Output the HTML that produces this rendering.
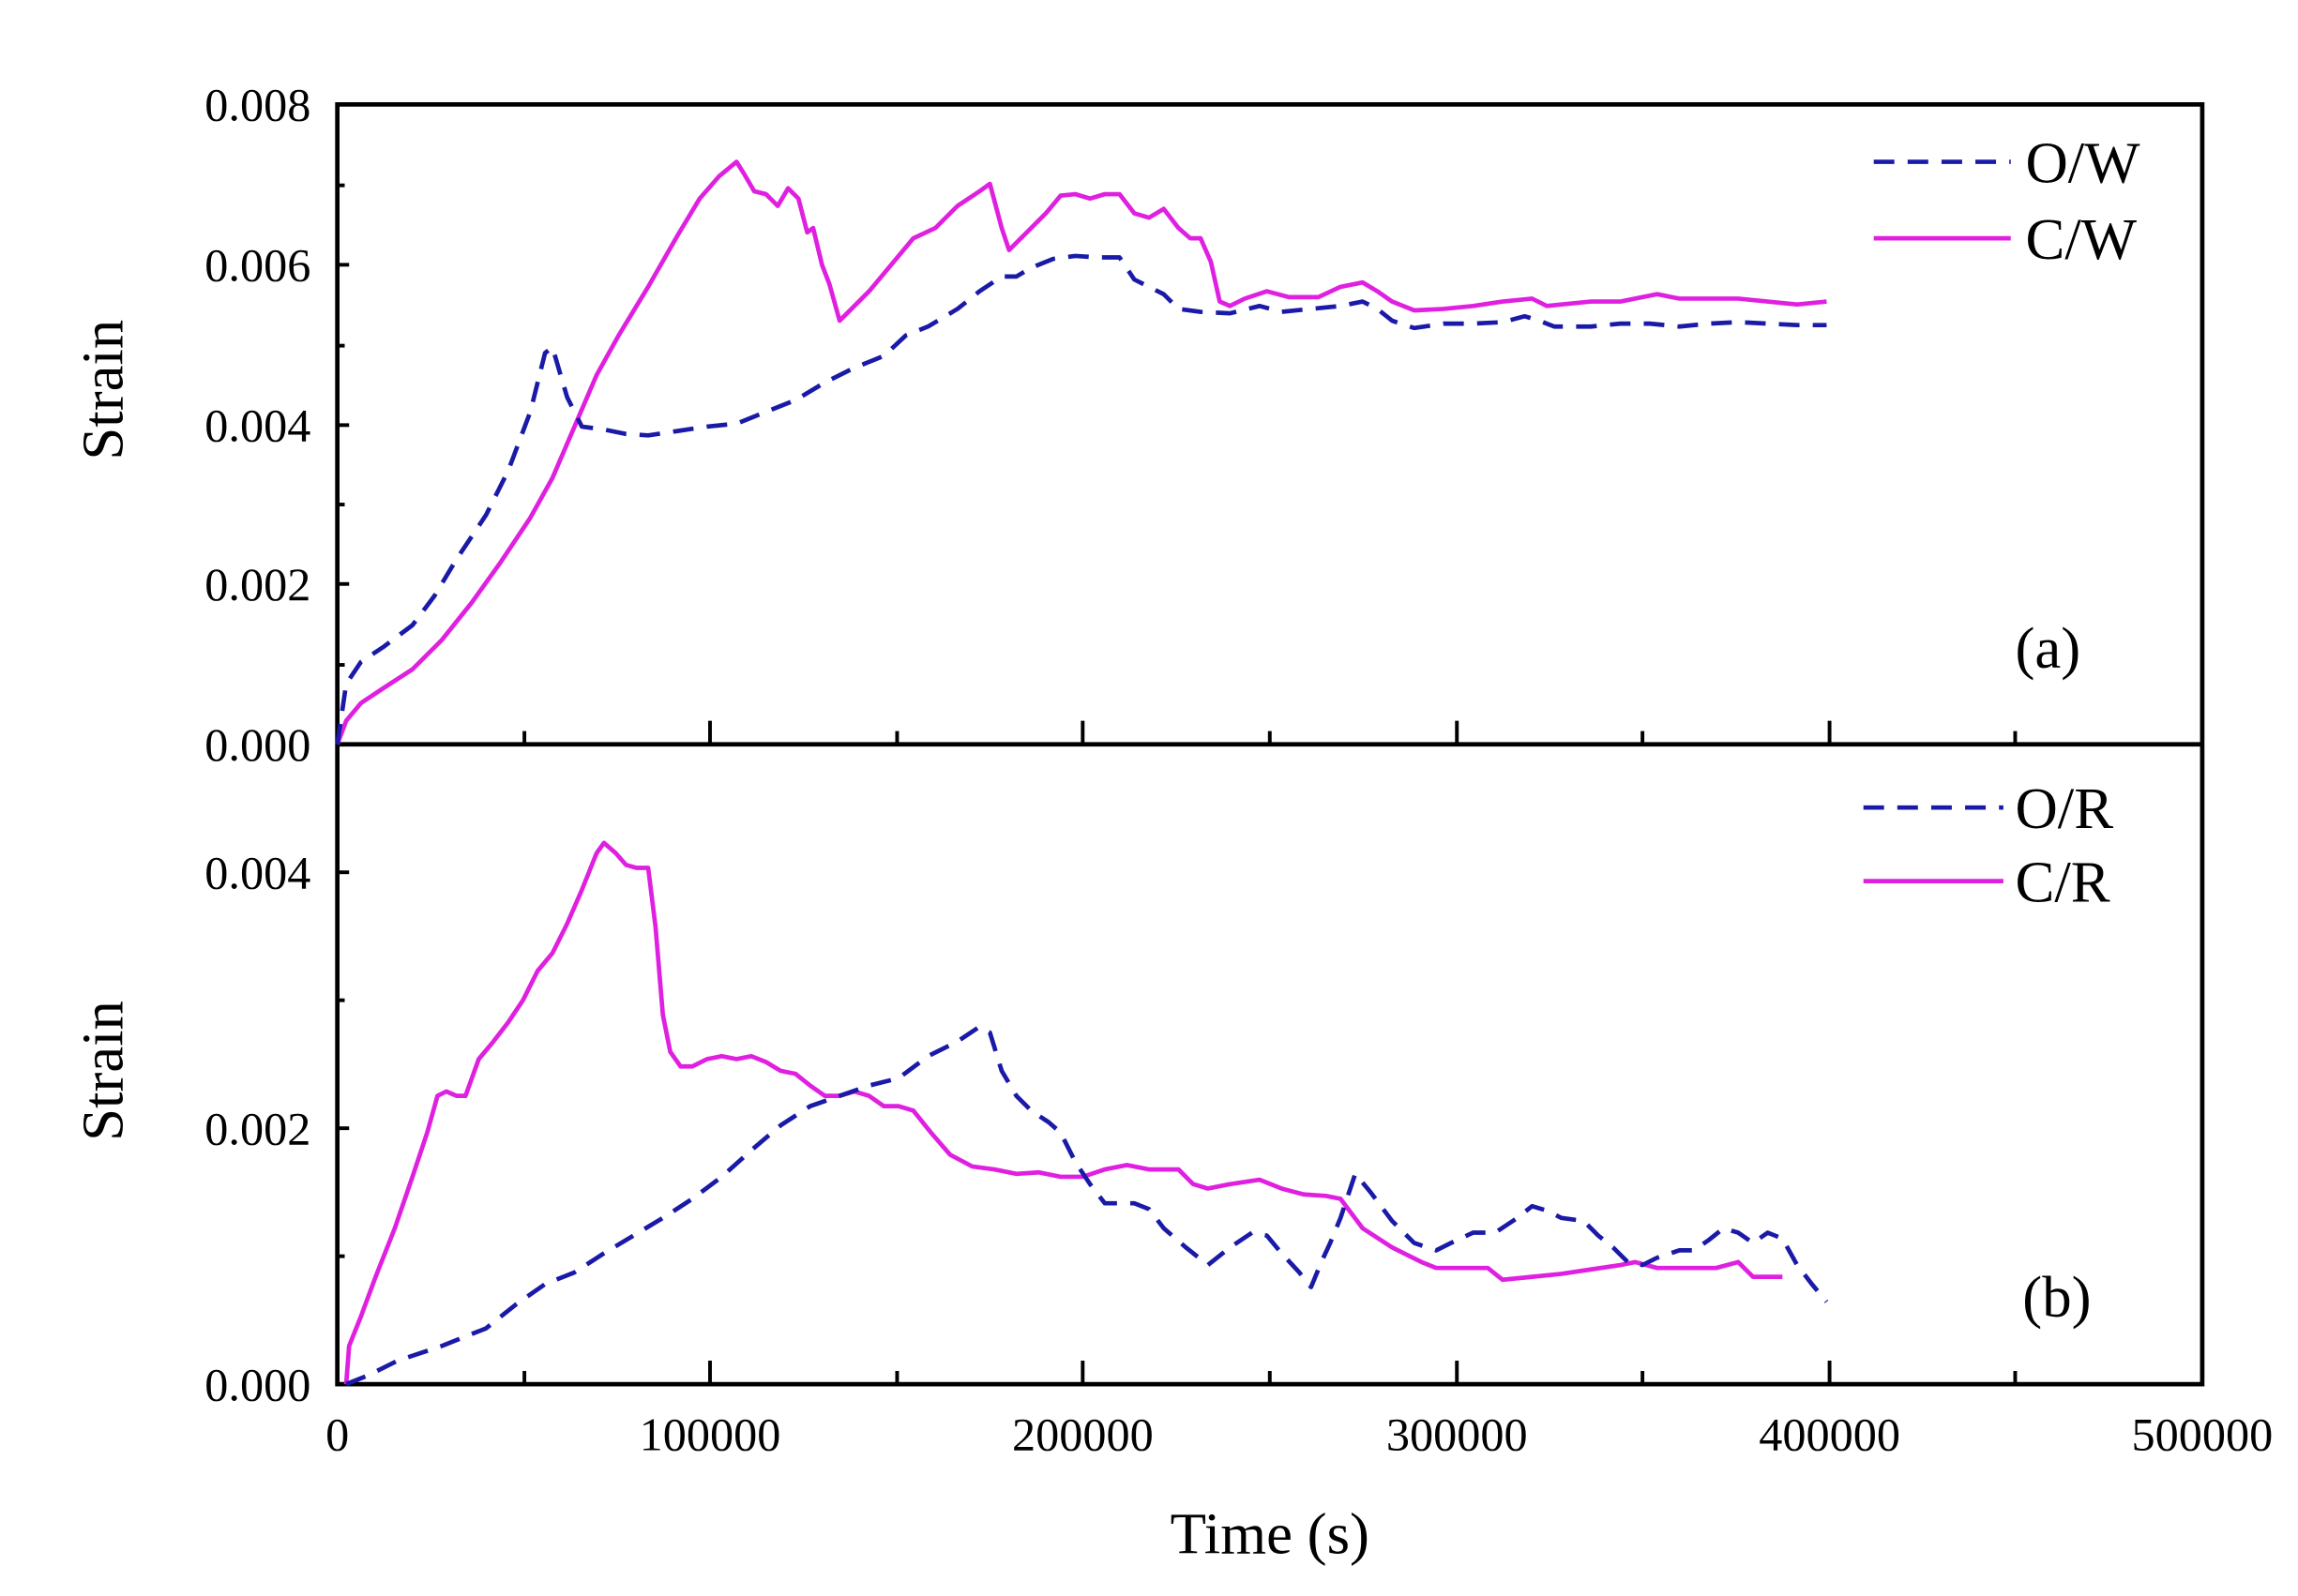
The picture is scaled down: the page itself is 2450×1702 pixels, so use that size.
<!DOCTYPE html>
<html><head><meta charset="utf-8"><style>html,body{margin:0;padding:0;background:#fff}svg{display:block}</style></head>
<body>
<svg width="2450" height="1702" viewBox="0 0 1560 1085" preserveAspectRatio="none" xmlns="http://www.w3.org/2000/svg" font-family="'Liberation Serif',serif">
<rect width="1560" height="1085" fill="#fff"/>
<g stroke="#000" stroke-width="3" fill="none">
<rect x="229" y="71" width="1266" height="870"/>
<line x1="229" y1="506" x2="1495" y2="506"/>
</g>
<g stroke="#000" stroke-width="2.5">
<line x1="482" y1="506" x2="482" y2="490"/><line x1="735" y1="506" x2="735" y2="490"/><line x1="989" y1="506" x2="989" y2="490"/><line x1="1242" y1="506" x2="1242" y2="490"/>
<line x1="356" y1="506" x2="356" y2="497"/><line x1="609" y1="506" x2="609" y2="497"/><line x1="862" y1="506" x2="862" y2="497"/><line x1="1115" y1="506" x2="1115" y2="497"/><line x1="1368" y1="506" x2="1368" y2="497"/>
<line x1="482" y1="941" x2="482" y2="925"/><line x1="735" y1="941" x2="735" y2="925"/><line x1="989" y1="941" x2="989" y2="925"/><line x1="1242" y1="941" x2="1242" y2="925"/>
<line x1="356" y1="941" x2="356" y2="932"/><line x1="609" y1="941" x2="609" y2="932"/><line x1="862" y1="941" x2="862" y2="932"/><line x1="1115" y1="941" x2="1115" y2="932"/><line x1="1368" y1="941" x2="1368" y2="932"/>
<line x1="229" y1="180" x2="237" y2="180"/><line x1="229" y1="289" x2="237" y2="289"/><line x1="229" y1="397" x2="237" y2="397"/>
<line x1="229" y1="126" x2="234" y2="126"/><line x1="229" y1="235" x2="234" y2="235"/><line x1="229" y1="343" x2="234" y2="343"/><line x1="229" y1="452" x2="234" y2="452"/>
<line x1="229" y1="593" x2="237" y2="593"/><line x1="229" y1="767" x2="237" y2="767"/>
<line x1="229" y1="680" x2="234" y2="680"/><line x1="229" y1="854" x2="234" y2="854"/>
</g>
<g font-size="32" text-anchor="end" fill="#000">
<text x="211" y="82">0.008</text><text x="211" y="191">0.006</text><text x="211" y="300">0.004</text><text x="211" y="408">0.002</text><text x="211" y="517">0.000</text>
<text x="211" y="604">0.004</text><text x="211" y="778">0.002</text><text x="211" y="952">0.000</text>
</g>
<g font-size="32" text-anchor="middle" fill="#000">
<text x="229" y="986">0</text><text x="482" y="986">100000</text><text x="735" y="986">200000</text><text x="989" y="986">300000</text><text x="1242" y="986">400000</text><text x="1495" y="986">500000</text>
</g>
<text x="862" y="1056" font-size="40" text-anchor="middle">Time (s)</text>
<text transform="translate(83,265) rotate(-90)" font-size="40" text-anchor="middle">Strain</text>
<text transform="translate(83,728) rotate(-90)" font-size="40" text-anchor="middle">Strain</text>
<text x="1368" y="454" font-size="40">(a)</text>
<text x="1373" y="895" font-size="40">(b)</text>
<g font-size="40">
<text x="1375" y="124">O/W</text><text x="1375" y="176">C/W</text>
<text x="1368" y="563">O/R</text><text x="1368" y="613">C/R</text>
</g>
<g fill="none" stroke-width="3" stroke-linejoin="round">
<line x1="1272" y1="110" x2="1365" y2="110" stroke="#1a1aa8" stroke-dasharray="14,9"/>
<line x1="1272" y1="162" x2="1365" y2="162" stroke="#e020e0"/>
<line x1="1265" y1="549" x2="1360" y2="549" stroke="#1a1aa8" stroke-dasharray="14,9"/>
<line x1="1265" y1="599" x2="1360" y2="599" stroke="#e020e0"/>
<polyline stroke="#e020e0" points="229,506 235,490 245,478 260,468 280,455 300,435 320,410 340,382 360,352 375,325 390,290 405,255 420,228 440,195 460,160 475,135 488,120 500,110 505,118 512,130 520,132 528,140 535,128 542,135 548,158 552,155 558,180 563,193 570,218 578,210 590,198 605,180 620,162 635,155 650,140 665,130 672,125 680,155 685,170 695,160 710,145 720,133 730,132 740,135 750,132 760,132 770,145 780,148 790,142 800,155 808,162 815,162 822,178 828,205 835,208 845,203 860,198 875,202 895,202 910,195 925,192 935,198 945,205 960,211 980,210 1000,208 1020,205 1040,203 1050,208 1060,207 1080,205 1100,205 1125,200 1140,203 1160,203 1180,203 1200,205 1220,207 1240,205"/>
<polyline stroke="#1a1aa8" stroke-dasharray="14,9" points="229,506 235,465 245,450 260,440 280,425 295,405 310,380 330,350 345,320 360,280 370,240 375,236 385,270 395,290 410,292 425,295 440,296 460,293 480,290 500,288 520,280 540,272 560,260 580,250 600,242 615,228 630,222 650,210 665,198 680,188 690,188 700,182 715,176 730,174 745,175 760,175 770,190 780,195 790,200 800,210 815,212 835,213 855,208 870,212 890,210 910,208 925,205 935,210 945,218 960,223 980,220 1000,220 1020,219 1035,215 1045,218 1055,222 1080,222 1100,220 1120,220 1140,222 1160,220 1180,219 1200,220 1220,221 1240,221"/>
<polyline stroke="#e020e0" points="235,941 237,915 245,895 255,868 268,835 280,800 290,770 297,745 303,742 310,745 316,745 325,720 335,708 345,695 355,680 365,660 375,648 385,628 395,605 405,580 410,573 418,580 425,588 432,590 440,590 445,630 450,690 455,715 462,725 470,725 480,720 490,718 500,720 510,718 520,722 530,728 540,730 550,738 560,745 570,745 580,742 590,745 600,752 610,752 620,755 632,770 645,785 660,793 675,795 690,798 705,797 720,800 735,800 750,795 765,792 780,795 800,795 810,805 820,808 835,805 855,802 870,808 885,812 900,813 910,815 925,835 945,848 965,858 975,862 990,862 1010,862 1020,870 1040,868 1060,866 1080,863 1100,860 1110,858 1125,862 1145,862 1165,862 1180,858 1190,868 1200,868 1210,868"/>
<polyline stroke="#1a1aa8" stroke-dasharray="14,9" points="235,941 250,935 270,925 300,915 330,903 350,887 370,873 390,865 410,852 430,840 450,828 470,815 490,800 510,782 530,765 550,752 570,745 590,738 610,733 630,718 650,708 665,698 672,702 680,728 690,745 700,755 712,763 720,770 730,790 740,805 750,818 770,818 780,822 790,835 805,848 820,860 835,848 850,838 860,840 870,852 882,865 890,875 897,858 903,845 910,828 920,798 930,810 945,830 960,845 975,850 985,845 1000,838 1015,838 1030,828 1040,820 1050,823 1060,828 1075,830 1085,840 1095,848 1105,858 1115,860 1125,855 1140,850 1150,850 1160,843 1170,835 1180,838 1190,845 1200,838 1210,842 1220,860 1230,873 1240,885"/>
</g>
</svg>
</body></html>
